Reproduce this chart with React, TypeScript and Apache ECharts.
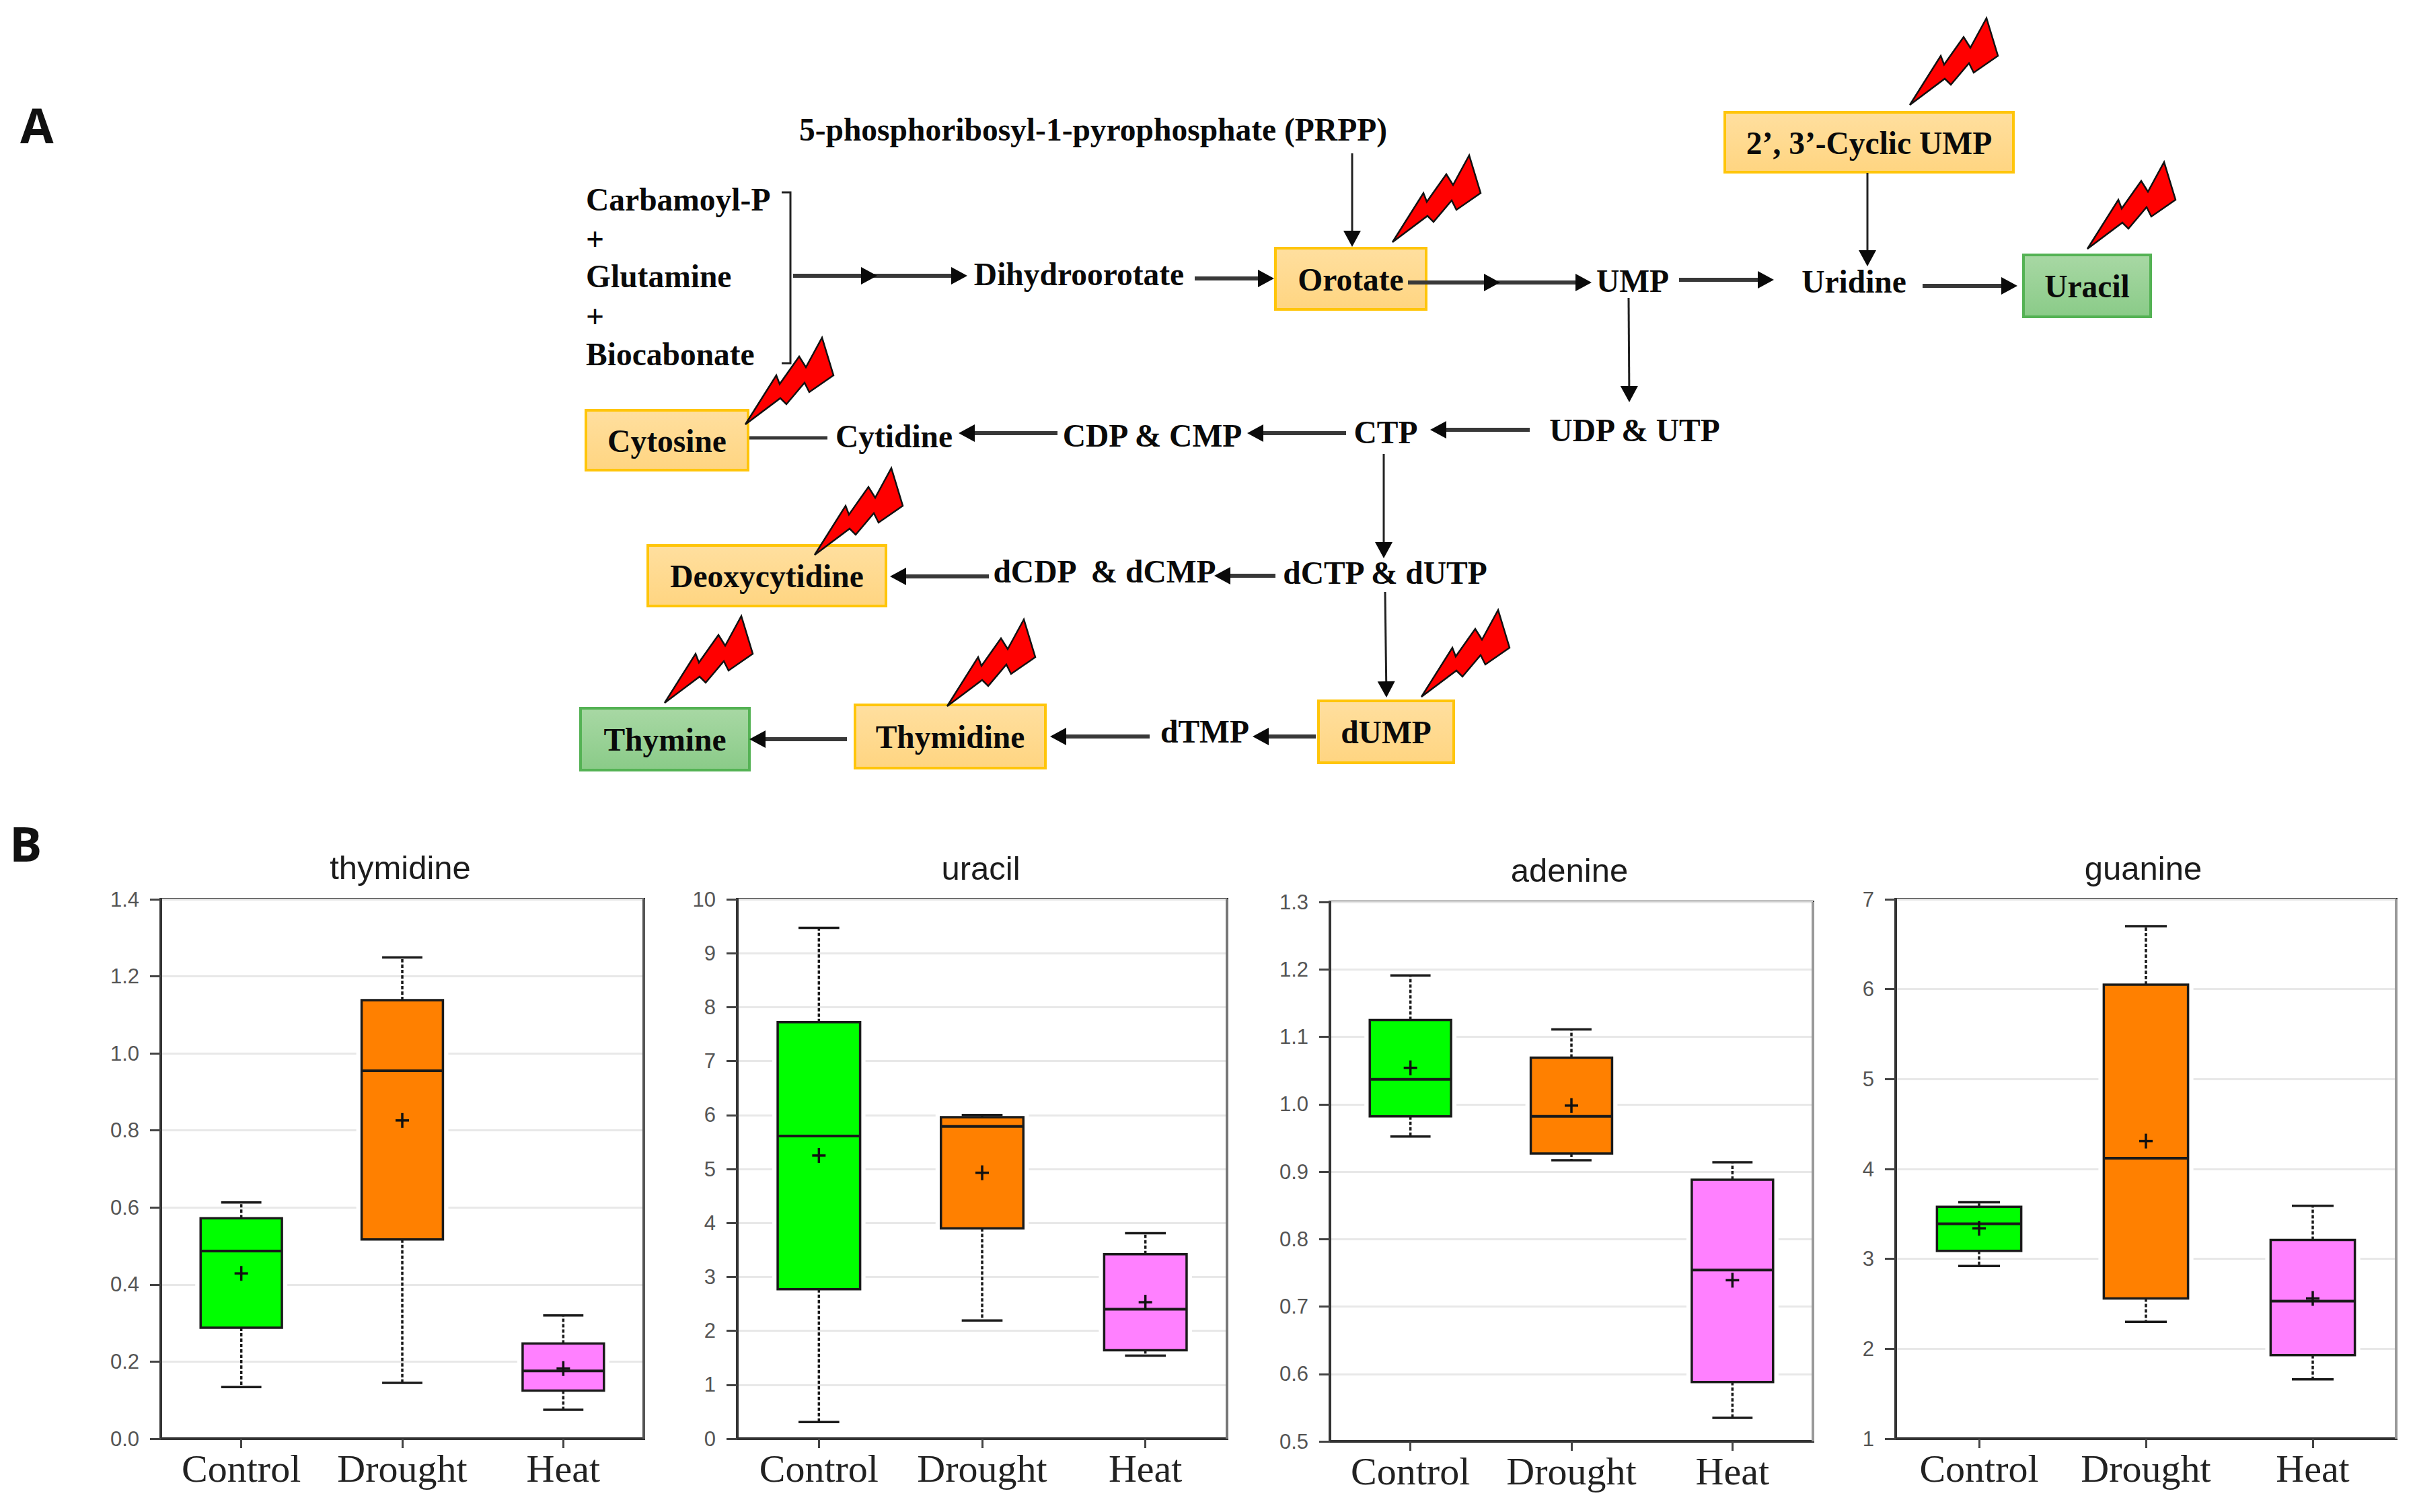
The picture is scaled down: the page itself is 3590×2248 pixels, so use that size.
import React, { useEffect, useRef } from "react";
import * as echarts from "echarts";

// ---------- data: each row is [low whisker, q1, median, q3, high whisker, mean] ----------
const treatments = ["Control", "Drought", "Heat"];
const thymidine = [
  [0.134, 0.288, 0.487, 0.572, 0.613, 0.429],
  [0.145, 0.517, 0.955, 1.138, 1.249, 0.826],
  [0.075, 0.125, 0.176, 0.247, 0.32, 0.182],
];
const uracil = [
  [0.31, 2.77, 5.61, 7.72, 9.47, 5.25],
  [2.19, 3.9, 5.79, 5.96, 6.0, 4.93],
  [1.54, 1.64, 2.4, 3.42, 3.81, 2.53],
];
const adenine = [
  [0.952, 0.982, 1.037, 1.125, 1.191, 1.054],
  [0.917, 0.927, 0.982, 1.069, 1.111, 0.998],
  [0.535, 0.588, 0.754, 0.888, 0.914, 0.739],
];
const guanine = [
  [2.92, 3.09, 3.39, 3.58, 3.63, 3.34],
  [2.3, 2.56, 4.12, 6.05, 6.7, 4.31],
  [1.66, 1.93, 2.53, 3.21, 3.59, 2.56],
];
const panelTitles = ["thymidine", "uracil", "adenine", "guanine"];
const panelValues = [thymidine, uracil, adenine, guanine];
const axisMin = [0, 0, 0.5, 1];
const axisMax = [1.4, 10, 1.3, 7];
const axisStep = [0.2, 1, 0.1, 1];
const axisDecimals = [1, 0, 1, 0];

// ---------- diagram texts ----------
const orangeBoxes = ["Orotate", "2’, 3’-Cyclic UMP", "Cytosine", "Deoxycytidine", "Thymidine", "dUMP"];
const greenBoxes = ["Uracil", "Thymine"];
const pathwayLabels = [
  "5-phosphoribosyl-1-pyrophosphate (PRPP)",
  "Dihydroorotate",
  "UMP",
  "Uridine",
  "UDP & UTP",
  "CTP",
  "CDP & CMP",
  "Cytidine",
  "dCDP  & dCMP",
  "dCTP & dUTP",
  "dTMP",
];
const substrateLabels = ["Carbamoyl-P", "+", "Glutamine", "+", "Biocabonate"];

// ---------- layout ----------
const W = 3590;
const H = 2248;
const SERIF = '"Liberation Serif", serif';
const SANS = '"Liberation Sans", sans-serif';
const GRIDS = [
  { left: 239, right: 957, top: 1337, bottom: 2139, titleX: 590, titleY: 1285, edge: "#555555" },
  { left: 1096, right: 1824, top: 1337, bottom: 2139, titleX: 1453, titleY: 1286, edge: "#777777" },
  { left: 1977, right: 2695, top: 1341, bottom: 2143, titleX: 2328, titleY: 1289, edge: "#999999" },
  { left: 2818, right: 3562, top: 1337, bottom: 2139, titleX: 3181, titleY: 1286, edge: "#999999" },
];
const BOX_COLORS = ["#00ff00", "#ff8000", "#ff80ff"];
const BOX_RECTS: Record<string, number[]> = {
  Orotate: [1896, 369, 224, 91],
  "2’, 3’-Cyclic UMP": [2564, 167, 429, 89],
  Cytosine: [871, 610, 241, 89],
  Deoxycytidine: [963, 811, 354, 90],
  Thymidine: [1271, 1048, 283, 94],
  dUMP: [1960, 1042, 201, 92],
  Uracil: [3008, 379, 189, 92],
  Thymine: [863, 1053, 251, 92],
};
const LABEL_POS: Record<string, number[]> = {
  "5-phosphoribosyl-1-pyrophosphate (PRPP)": [1625, 193],
  Dihydroorotate: [1604, 408],
  UMP: [2427, 418],
  Uridine: [2756, 419],
  "UDP & UTP": [2430, 640],
  CTP: [2060, 643],
  "CDP & CMP": [1713, 648],
  Cytidine: [1329, 649],
  "dCDP  & dCMP": [1642, 850],
  "dCTP & dUTP": [2059, 852],
  dTMP: [1791, 1088],
};
const SUBSTRATE_Y = [297, 356, 411, 471, 527];
const BOLT_TIPS = [
  [2839, 156], [2070, 360], [3103, 370], [1108, 631], [1211, 825], [988, 1045], [1408, 1050], [2113, 1036],
];
const BOLT_SHAPE = [
  [0, 0], [46, -73], [51, -60], [80, -101], [90, -85], [114, -129], [131, -73], [95, -48], [88, -62], [61, -30], [52, -39],
];
// x1, y1, x2, y2, thick(1)/thin(0), optional position of an extra arrow head
const ARROWS: number[][] = [
  [2010, 228, 2010, 367, 0],
  [2776, 257, 2776, 396, 0],
  [2421, 443, 2422, 598, 0],
  [2057, 675, 2057, 830, 0],
  [2059, 880, 2061, 1037, 0],
  [1179, 410, 1438, 410, 1, 1304],
  [1776, 414, 1894, 414, 1],
  [2093, 420, 2366, 420, 1, 2230],
  [2496, 416, 2637, 416, 1],
  [2858, 425, 2999, 425, 1],
  [2274, 639, 2126, 639, 1],
  [2001, 644, 1854, 644, 1],
  [1572, 644, 1425, 644, 1],
  [1470, 857, 1323, 857, 1],
  [1896, 856, 1805, 856, 1],
  [1956, 1095, 1862, 1095, 1],
  [1709, 1095, 1561, 1095, 1],
  [1259, 1099, 1114, 1099, 1],
];

function labelStyle(text: string, x: number, y: number, size = 47.5, align = "center") {
  return {
    type: "text",
    z: 20,
    style: {
      text, x, y,
      fontFamily: SERIF,
      fontWeight: "bold",
      fontSize: size,
      fill: "#0a0a0a",
      align,
      verticalAlign: "middle",
    },
  };
}

function arrowElements(a: number[]) {
  const [x1, y1, x2, y2, thick, extra] = a;
  const len = Math.hypot(x2 - x1, y2 - y1);
  const ux = (x2 - x1) / len;
  const uy = (y2 - y1) / len;
  const headL = 24;
  const headW = 13;
  const head = (hx: number, hy: number) => ({
    type: "polygon",
    z: 12,
    shape: {
      points: [
        [hx, hy],
        [hx - ux * headL - uy * headW, hy - uy * headL + ux * headW],
        [hx - ux * headL + uy * headW, hy - uy * headL - ux * headW],
      ],
    },
    style: { fill: "#0a0a0a" },
  });
  const els: any[] = [
    {
      type: "line",
      z: 11,
      shape: { x1, y1, x2: x2 - ux * 10, y2: y2 - uy * 10 },
      style: { stroke: thick ? "#383838" : "#222222", lineWidth: thick ? 6 : 3 },
    },
    head(x2, y2),
  ];
  if (extra) els.push(head(extra, y2));
  return els;
}

function boxElement(name: string, green: boolean) {
  const [x, y, width, height] = BOX_RECTS[name];
  return [
    {
      type: "rect",
      z: 5,
      shape: { x, y, width, height },
      style: {
        fill: new echarts.graphic.LinearGradient(0, 0, 0, 1, green
          ? [{ offset: 0, color: "#a8d8a4" }, { offset: 1, color: "#8acb88" }]
          : [{ offset: 0, color: "#ffdf9f" }, { offset: 1, color: "#ffd581" }]),
        stroke: green ? "#54b254" : "#ffc50a",
        lineWidth: 4,
      },
    },
    labelStyle(name, x + width / 2, y + height / 2 + 1),
  ];
}

function diagramGraphics() {
  const els: any[] = [];
  els.push({
    type: "text",
    z: 20,
    style: { text: "A", x: 30, y: 185, fontFamily: '"Open Sans", sans-serif', fontWeight: "bold", fontSize: 72, fill: "#111", align: "left", verticalAlign: "middle" },
  });
  els.push({
    type: "text",
    z: 20,
    style: { text: "B", x: 14, y: 1253, fontFamily: '"Open Sans", sans-serif', fontWeight: "bold", fontSize: 72, fill: "#111", align: "left", verticalAlign: "middle" },
  });
  orangeBoxes.forEach((n) => els.push(...boxElement(n, false)));
  greenBoxes.forEach((n) => els.push(...boxElement(n, true)));
  pathwayLabels.forEach((t) => els.push(labelStyle(t, LABEL_POS[t][0], LABEL_POS[t][1])));
  substrateLabels.forEach((t, i) => els.push(labelStyle(t, 871, SUBSTRATE_Y[i], 47.5, "left")));
  // bracket joining the substrates
  els.push({
    type: "polyline",
    z: 11,
    shape: { points: [[1162, 286], [1175, 286], [1175, 540], [1162, 540]] },
    style: { stroke: "#222222", lineWidth: 3, fill: "none" },
  });
  // headless connector between cytidine and cytosine
  els.push({
    type: "line",
    z: 11,
    shape: { x1: 1114, y1: 651, x2: 1230, y2: 651 },
    style: { stroke: "#383838", lineWidth: 5 },
  });
  ARROWS.forEach((a) => els.push(...arrowElements(a)));
  BOLT_TIPS.forEach(([tx, ty]) =>
    els.push({
      type: "polygon",
      z: 15,
      shape: { points: BOLT_SHAPE.map(([dx, dy]) => [tx + dx, ty + dy]) },
      style: { fill: "#ff0000", stroke: "#111111", lineWidth: 2.5, lineJoin: "miter" },
    })
  );
  // right edge of each plot frame is lighter than the others
  GRIDS.forEach((g) =>
    els.push({
      type: "line",
      z: 30,
      shape: { x1: g.right, y1: g.top, x2: g.right, y2: g.bottom },
      style: { stroke: g.edge, lineWidth: 4 },
    })
  );
  return els;
}

function renderBox(params: any, api: any) {
  const idx = api.value(0);
  const x = api.coord([idx, 0])[0];
  const band = api.size([1, 0])[0];
  const boxW = band * 0.505;
  const capW = band * 0.25;
  const py = (dim: number) => api.coord([idx, api.value(dim)])[1];
  const low = py(1), q1 = py(2), med = py(3), q3 = py(4), high = py(5), mean = py(6);
  const dark = "#1a1a1a";
  const whisker = { stroke: dark, lineWidth: 3.5, lineDash: [5, 3] };
  const solid = { stroke: dark, lineWidth: 3.5 };
  return {
    type: "group",
    children: [
      {
        type: "rect",
        shape: { x: x - boxW / 2 - 8, y: q3 - 4, width: boxW + 16, height: q1 - q3 + 8 },
        style: { fill: "#ffffff" },
      },
      { type: "line", shape: { x1: x, y1: q3, x2: x, y2: high }, style: whisker },
      { type: "line", shape: { x1: x, y1: q1, x2: x, y2: low }, style: whisker },
      { type: "line", shape: { x1: x - capW / 2, y1: high, x2: x + capW / 2, y2: high }, style: solid },
      { type: "line", shape: { x1: x - capW / 2, y1: low, x2: x + capW / 2, y2: low }, style: solid },
      {
        type: "rect",
        shape: { x: x - boxW / 2, y: q3, width: boxW, height: q1 - q3 },
        style: { fill: BOX_COLORS[idx], stroke: dark, lineWidth: 3.5 },
      },
      { type: "line", shape: { x1: x - boxW / 2, y1: med, x2: x + boxW / 2, y2: med }, style: { stroke: dark, lineWidth: 4 } },
      { type: "line", shape: { x1: x - 10, y1: mean, x2: x + 10, y2: mean }, style: { stroke: "#111", lineWidth: 3.5 } },
      { type: "line", shape: { x1: x, y1: mean - 11, x2: x, y2: mean + 11 }, style: { stroke: "#111", lineWidth: 3.5 } },
    ],
  };
}

function buildOption() {
  return {
    animation: false,
    backgroundColor: "#ffffff",
    title: panelTitles.map((t, i) => ({
      text: t,
      left: GRIDS[i].titleX,
      top: GRIDS[i].titleY,
      textAlign: "center",
      textVerticalAlign: "middle",
      textStyle: { fontFamily: SANS, fontWeight: "normal", fontSize: 49, color: "#1c1c1c" },
    })),
    grid: GRIDS.map((g) => ({
      left: g.left,
      top: g.top,
      width: g.right - g.left,
      height: g.bottom - g.top,
      show: true,
      borderColor: "#333333",
      borderWidth: 4,
      backgroundColor: "transparent",
    })),
    xAxis: GRIDS.map((_, i) => ({
      type: "category",
      gridIndex: i,
      data: treatments,
      axisLine: { show: true, lineStyle: { color: "#333333", width: 4 } },
      axisTick: { show: true, alignWithLabel: true, length: 14, lineStyle: { color: "#444444", width: 3 } },
      axisLabel: { fontFamily: SERIF, fontSize: 58, color: "#222222", margin: 15, interval: 0 },
      splitLine: { show: false },
    })),
    yAxis: GRIDS.map((_, i) => ({
      type: "value",
      gridIndex: i,
      min: axisMin[i],
      max: axisMax[i],
      interval: axisStep[i],
      axisLine: { show: true, lineStyle: { color: "#333333", width: 4 } },
      axisTick: { show: true, length: 16, lineStyle: { color: "#444444", width: 3 } },
      axisLabel: {
        fontFamily: SANS,
        fontSize: 31,
        color: "#555555",
        margin: 32,
        formatter: (v: number) => v.toFixed(axisDecimals[i]),
      },
      splitLine: { show: true, lineStyle: { color: "#e8e8e8", width: 3 } },
    })),
    series: panelValues.map((rows, i) => ({
      type: "custom",
      name: panelTitles[i],
      xAxisIndex: i,
      yAxisIndex: i,
      encode: { x: 0, y: [1, 2, 3, 4, 5, 6] },
      data: rows.map((r, k) => [k, ...r]),
      renderItem: renderBox,
      z: 5,
    })),
    graphic: { elements: diagramGraphics() },
  };
}

export default function App() {
  const ref = useRef<HTMLDivElement>(null);
  useEffect(() => {
    document.body.style.margin = "0";
    const chart = echarts.init(ref.current!, undefined, { renderer: "svg", width: W, height: H });
    chart.setOption(buildOption() as any);
    return () => chart.dispose();
  }, []);
  return <div ref={ref} style={{ width: W, height: H, position: "absolute", left: 0, top: 0 }} />;
}
